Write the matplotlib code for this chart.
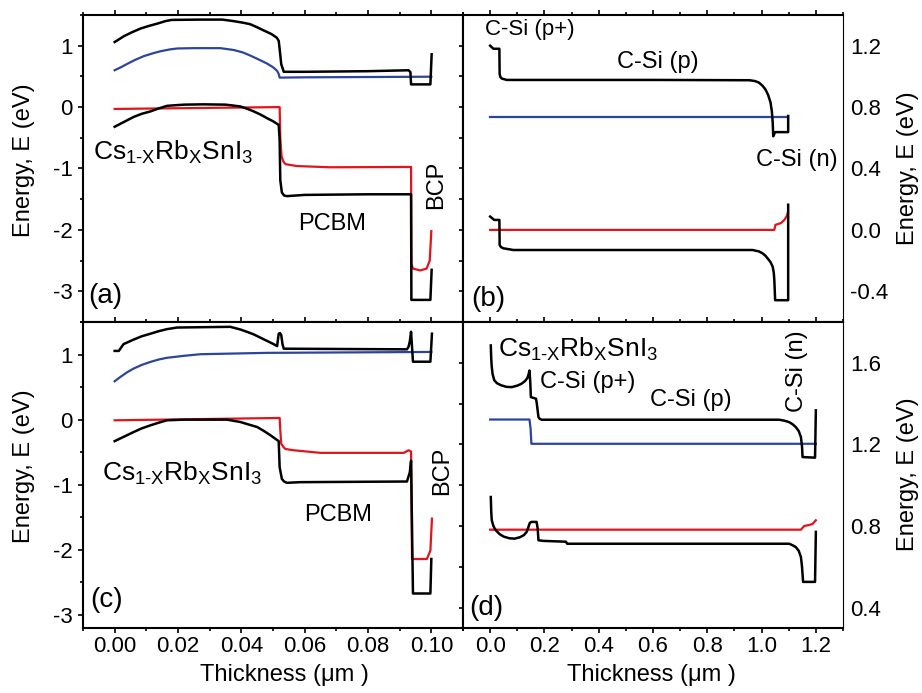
import matplotlib
matplotlib.use("Agg")
import matplotlib.pyplot as plt
from matplotlib.ticker import MultipleLocator, FormatStrFormatter

# ===================== data =====================
# (a) Cs1-xRbxSnI3 / PCBM / BCP
a_ec_x = [0.0, 0.003, 0.0055, 0.0082, 0.011, 0.0135, 0.016, 0.018, 0.027, 0.034, 0.0376, 0.0405, 0.0428,
          0.045, 0.047, 0.0495, 0.0512, 0.0518, 0.0522, 0.0526, 0.0534, 0.060, 0.080, 0.0928, 0.0934,
          0.0936, 0.0997, 0.1001]
a_ec_y = [1.06, 1.157, 1.22, 1.28, 1.325, 1.36, 1.40, 1.42, 1.425, 1.425, 1.40, 1.375, 1.35,
          1.30, 1.25, 1.19, 1.13, 1.08, 0.90, 0.70, 0.575, 0.575, 0.585, 0.60, 0.57,
          0.37, 0.37, 0.86]
a_fn_x = [0.0, 0.002, 0.004, 0.0065, 0.0092, 0.012, 0.0145, 0.0175, 0.0198, 0.025, 0.0334, 0.0376,
          0.0405, 0.0428, 0.0455, 0.0481, 0.050, 0.0513, 0.0518, 0.0521, 0.060, 0.080, 0.100]
a_fn_y = [0.60, 0.65, 0.705, 0.77, 0.83, 0.875, 0.91, 0.94, 0.955, 0.96, 0.96, 0.93,
          0.89, 0.84, 0.775, 0.71, 0.65, 0.59, 0.54, 0.48, 0.485, 0.49, 0.495]
a_fp_x = [0.0, 0.0521, 0.0523, 0.0527, 0.0533, 0.0540, 0.0575, 0.068, 0.0936, 0.0937, 0.0942, 0.0965,
          0.0985, 0.0995, 0.1000]
a_fp_y = [-0.03, 0.0, -0.50, -0.80, -0.89, -0.93, -0.96, -0.98, -0.975, -2.55, -2.63, -2.66,
          -2.63, -2.50, -2.02]
a_ev_x = [0.0, 0.003, 0.006, 0.0085, 0.0113, 0.014, 0.0165, 0.019, 0.022, 0.028, 0.035, 0.0375, 0.0397,
          0.042, 0.0439, 0.046, 0.0481, 0.050, 0.0518, 0.0521, 0.0523, 0.0528, 0.0535, 0.0544, 0.060,
          0.080, 0.0936, 0.0937, 0.0997, 0.1001]
a_ev_y = [-0.32, -0.24, -0.16, -0.11, -0.07, -0.02, 0.02, 0.03, 0.04, 0.045, 0.04, 0.025, 0.01,
          -0.03, -0.07, -0.12, -0.18, -0.23, -0.29, -0.54, -1.19, -1.39, -1.44, -1.45, -1.43,
          -1.42, -1.42, -3.14, -3.14, -2.65]

# (b) C-Si (p+) / C-Si (p) / C-Si (n)
b_ec_x = [0.0, 0.012, 0.034, 0.035, 0.038, 0.043, 0.061, 0.30, 0.60, 0.955, 0.975, 0.99, 1.003, 1.014,
          1.024, 1.033, 1.038, 1.041, 1.043, 1.050, 1.098, 1.098]
b_ec_y = [1.20, 1.18, 1.18, 1.015, 0.995, 0.986, 0.977, 0.977, 0.977, 0.975, 0.970, 0.96, 0.94, 0.916,
          0.88, 0.83, 0.77, 0.70, 0.61, 0.637, 0.637, 0.742]
b_fn_x = [0.0, 1.098]
b_fn_y = [0.737, 0.737]
b_fp_x = [0.0, 1.047, 1.051, 1.071, 1.084, 1.092, 1.096]
b_fp_y = [0.0, 0.0, 0.033, 0.044, 0.065, 0.088, 0.109]
b_ev_x = [0.0, 0.015, 0.034, 0.035, 0.040, 0.049, 0.086, 0.50, 0.967, 0.990, 1.004, 1.014, 1.022,
          1.033, 1.041, 1.045, 1.047, 1.050, 1.098, 1.098]
b_ev_y = [0.087, 0.065, 0.065, -0.098, -0.112, -0.12, -0.131, -0.131, -0.131, -0.140, -0.153, -0.168,
          -0.185, -0.21, -0.24, -0.28, -0.327, -0.458, -0.458, 0.164]

# (c) tandem, top cell
c_ec_x = [0.0, 0.0013, 0.0028, 0.006, 0.0085, 0.0113, 0.014, 0.0165, 0.0197, 0.0365, 0.0397, 0.042,
          0.0439, 0.046, 0.0481, 0.050, 0.0513, 0.0518, 0.0522, 0.0526, 0.0530, 0.0534, 0.0923, 0.0928,
          0.0932, 0.0936, 0.0942, 0.0997, 0.1002]
c_ec_y = [1.056, 1.056, 1.16, 1.23, 1.28, 1.32, 1.36, 1.39, 1.415, 1.426, 1.385, 1.345,
          1.31, 1.26, 1.21, 1.165, 1.13, 1.32, 1.33, 1.30, 1.16, 1.09, 1.08, 1.12,
          1.20, 1.35, 0.89, 0.89, 1.32]
c_fn_x = [0.0, 0.0018, 0.004, 0.006, 0.0085, 0.0113, 0.014, 0.0165, 0.0218, 0.027, 0.048, 0.100]
c_fn_y = [0.59, 0.656, 0.73, 0.785, 0.84, 0.887, 0.925, 0.95, 0.98, 1.005, 1.026, 1.04]
c_fp_x = [0.0, 0.0521, 0.0523, 0.0526, 0.0533, 0.0539, 0.0565, 0.065, 0.0913, 0.0928, 0.0936, 0.0939,
          0.0986, 0.0997, 0.1002]
c_fp_y = [-0.01, 0.026, -0.16, -0.37, -0.42, -0.45, -0.47, -0.51, -0.51, -0.47, -0.49, -2.14,
          -2.14, -2.01, -1.52]
c_ev_x = [0.0, 0.003, 0.006, 0.0085, 0.0113, 0.014, 0.0165, 0.0218, 0.0355, 0.0397, 0.042, 0.045,
          0.047, 0.0492, 0.0518, 0.0521, 0.0528, 0.0535, 0.0544, 0.0586, 0.0923, 0.0932, 0.0936,
          0.0942, 0.0997, 0.1000]
c_ev_y = [-0.33, -0.26, -0.19, -0.135, -0.087, -0.045, -0.01, 0.0, 0.0, -0.036, -0.07, -0.113,
          -0.17, -0.24, -0.33, -0.73, -0.91, -0.95, -0.97, -0.96, -0.95, -0.81, -0.63,
          -2.67, -2.67, -2.14]

# (d) tandem, bottom cell
d_ec_x = [0.0024, 0.004, 0.006, 0.009, 0.015, 0.025, 0.040, 0.060, 0.080, 0.100, 0.115, 0.128, 0.137,
          0.142, 0.145, 0.148, 0.150, 0.169, 0.172, 0.178, 0.183, 0.190, 1.065, 1.085, 1.102, 1.115,
          1.126, 1.137, 1.145, 1.149, 1.151, 1.197, 1.200]
d_ec_y = [1.685, 1.62, 1.58, 1.545, 1.515, 1.50, 1.49, 1.482, 1.481, 1.488, 1.497, 1.51, 1.525,
          1.545, 1.562, 1.50, 1.432, 1.424, 1.40, 1.334, 1.325, 1.321, 1.321, 1.316, 1.309, 1.298,
          1.285, 1.265, 1.236, 1.19, 1.138, 1.135, 1.367]
d_fn_x = [0.0, 0.145, 0.149, 0.152, 1.200]
d_fn_y = [1.322, 1.322, 1.277, 1.203, 1.203]
d_fp_x = [0.0, 1.145, 1.157, 1.175, 1.188, 1.200]
d_fp_y = [0.782, 0.782, 0.80, 0.805, 0.81, 0.828]
d_ev_x = [0.0024, 0.004, 0.006, 0.012, 0.020, 0.035, 0.050, 0.070, 0.090, 0.110, 0.125, 0.135, 0.141,
          0.146, 0.152, 0.171, 0.175, 0.178, 0.196, 0.279, 0.284, 1.102, 1.115, 1.126, 1.137, 1.145,
          1.149, 1.153, 1.197, 1.200]
d_ev_y = [0.942, 0.87, 0.828, 0.80, 0.78, 0.76, 0.748, 0.74, 0.738, 0.745, 0.756, 0.772, 0.795,
          0.815, 0.82, 0.82, 0.79, 0.730, 0.727, 0.723, 0.713, 0.713, 0.705, 0.697, 0.678, 0.648,
          0.60, 0.526, 0.526, 0.771]

# ===================== style =====================
plt.rcParams['font.family'] = ['Liberation Sans', 'DejaVu Sans']
plt.rcParams['axes.unicode_minus'] = False
plt.rcParams['mathtext.fontset'] = 'custom'
plt.rcParams['mathtext.rm'] = 'Liberation Sans'
plt.rcParams['mathtext.it'] = 'Liberation Sans:italic'
plt.rcParams['mathtext.default'] = 'regular'

BLUE = '#2c449c'
RED = '#e3131b'
CS = r'Cs$_{1\text{-}X}$Rb$_X$SnI$_3$'
ELABEL = 'Energy, E (eV)'
XLABEL = 'Thickness (\u03bcm )'

fig = plt.figure(figsize=(9.22, 6.93), dpi=100)
x0, xm, x1 = 83 / 922, 463 / 922, 843 / 922
yt, ym, yb = 1 - 15 / 693, 1 - 322 / 693, 1 - 628 / 693
ax_a = fig.add_axes([x0, ym, xm - x0, yt - ym])
ax_b = fig.add_axes([xm, ym, x1 - xm, yt - ym])
ax_c = fig.add_axes([x0, yb, xm - x0, ym - yb])
ax_d = fig.add_axes([xm, yb, x1 - xm, ym - yb])


def draw(ax, ec, fn, fp, ev):
    ax.plot(fn[0], fn[1], color=BLUE, lw=1.6)
    ax.plot(fp[0], fp[1], color=RED, lw=1.6)
    ax.plot(ec[0], ec[1], color='black', lw=1.8)
    ax.plot(ev[0], ev[1], color='black', lw=1.8)


draw(ax_a, (a_ec_x, a_ec_y), (a_fn_x, a_fn_y), (a_fp_x, a_fp_y), (a_ev_x, a_ev_y))
draw(ax_b, (b_ec_x, b_ec_y), (b_fn_x, b_fn_y), (b_fp_x, b_fp_y), (b_ev_x, b_ev_y))
draw(ax_c, (c_ec_x, c_ec_y), (c_fn_x, c_fn_y), (c_fp_x, c_fp_y), (c_ev_x, c_ev_y))
draw(ax_d, (d_ec_x, d_ec_y), (d_fn_x, d_fn_y), (d_fp_x, d_fp_y), (d_ev_x, d_ev_y))

# 坐标轴
for ax in (ax_a, ax_c):
    ax.set_xlim(-0.01, 0.11)
    ax.xaxis.set_major_locator(MultipleLocator(0.02))
    ax.xaxis.set_minor_locator(MultipleLocator(0.01))
    ax.xaxis.set_major_formatter(FormatStrFormatter('%.2f'))
    ax.yaxis.set_major_locator(MultipleLocator(1))
    ax.yaxis.set_minor_locator(MultipleLocator(0.5))
    ax.yaxis.set_major_formatter(FormatStrFormatter('%d'))
    ax.tick_params(axis='y', which='both', direction='out', left=True, right=False, pad=4)
    for s in ax.spines.values():
        s.set_linewidth(1.5)
ax_a.set_ylim(-3.5, 1.5)
ax_c.set_ylim(-3.2, 1.5)

for ax in (ax_b, ax_d):
    ax.set_xlim(-0.1, 1.3)
    ax.xaxis.set_major_locator(MultipleLocator(0.2))
    ax.xaxis.set_minor_locator(MultipleLocator(0.1))
    ax.xaxis.set_major_formatter(FormatStrFormatter('%.1f'))
    ax.yaxis.set_major_locator(MultipleLocator(0.4))
    ax.yaxis.set_minor_locator(MultipleLocator(0.2))
    ax.yaxis.set_major_formatter(FormatStrFormatter('%.1f'))
    ax.tick_params(axis='y', which='both', direction='out', left=True, right=False,
                   labelleft=False, labelright=True, length=3, width=1.2, pad=2)
    for s in ax.spines.values():
        s.set_linewidth(1.5)
    ax.spines['right'].set_linewidth(0.8)
ax_b.set_ylim(-0.6, 1.4)
ax_d.set_ylim(0.3, 1.8)

for ax in (ax_a, ax_b, ax_c, ax_d):
    ax.tick_params(axis='x', which='both', direction='out', top=True, bottom=True,
                   labeltop=False, labelbottom=ax in (ax_c, ax_d), pad=2.5)
    ax.tick_params(which='major', length=3.6, width=1.2, labelsize=16)
    ax.tick_params(which='minor', length=2.2, width=1.2)
for ax in (ax_b, ax_d):
    ax.tick_params(axis='y', which='both', length=3)

# 轴标签
for ax, yc in ((ax_a, 0.528), (ax_c, 0.529)):
    ax.set_ylabel(ELABEL, fontsize=17)
    ax.yaxis.set_label_coords(-0.127, yc)
for ax, yc in ((ax_b, 0.50), (ax_d, 0.503)):
    ax.yaxis.set_label_position('right')
    ax.set_ylabel(ELABEL, fontsize=17, rotation=90, va='top')
    ax.yaxis.set_label_coords(1.142, yc)
ax_c.set_xlabel(XLABEL, fontsize=17)
ax_c.xaxis.set_label_coords(0.529, -0.118)
ax_d.set_xlabel(XLABEL, fontsize=17)
ax_d.xaxis.set_label_coords(0.495, -0.118)

# 注释文字
ax_a.text(-0.0070, -0.852, CS, fontsize=19, va='baseline')
ax_a.text(0.058, -2.0, 'PCBM', fontsize=17, va='baseline')
ax_a.text(0.1014, -1.26, 'BCP', fontsize=17, rotation=90, ha='center', va='center')
ax_a.text(-0.0085, -3.07, '(a)', fontsize=20, va='center')

ax_b.text(-0.018, 1.272, 'C-Si (p+)', fontsize=16, va='baseline')
ax_b.text(0.618, 1.054, 'C-Si (p)', fontsize=17, ha='center', va='baseline')
ax_b.text(0.978, 0.415, 'C-Si (n)', fontsize=17, va='baseline')
ax_b.text(-0.07, -0.45, '(b)', fontsize=20, va='center')

ax_c.text(-0.0039, -0.934, CS, fontsize=19, va='baseline')
ax_c.text(0.0598, -1.549, 'PCBM', fontsize=17, va='baseline')
ax_c.text(0.1034, -0.78, 'BCP', fontsize=17, rotation=90, ha='center', va='center')
ax_c.text(-0.0078, -2.77, '(c)', fontsize=20, va='center')

ax_d.text(0.029, 1.631, CS, fontsize=19, va='baseline')
ax_d.text(0.184, 1.476, 'C-Si (p+)', fontsize=17, va='baseline')
ax_d.text(0.588, 1.386, 'C-Si (p)', fontsize=17, va='baseline')
ax_d.text(1.13, 1.56, 'C-Si (n)', fontsize=17, rotation=90, ha='center', va='center')
ax_d.text(-0.077, 0.40, '(d)', fontsize=20, va='center')

fig.savefig('out.png', dpi=100)
plt.close(fig)
